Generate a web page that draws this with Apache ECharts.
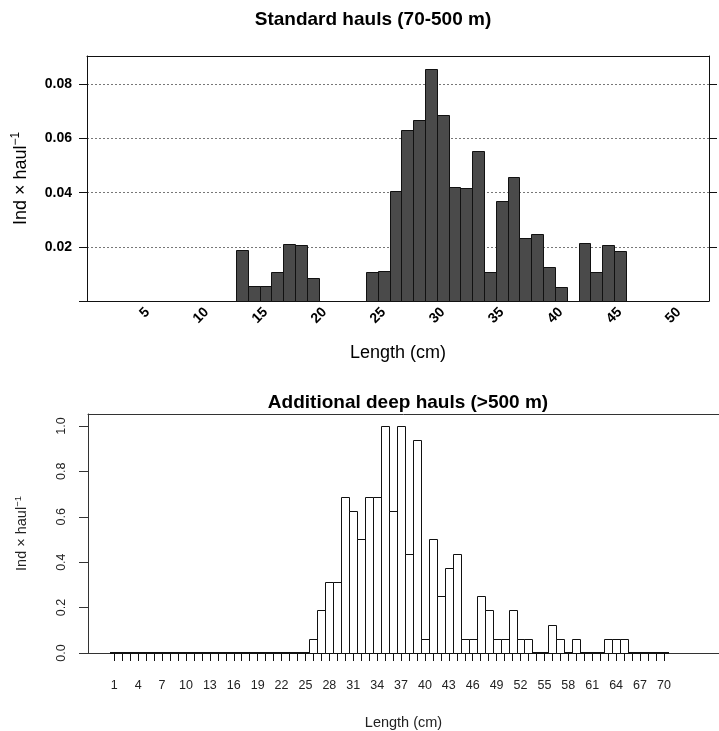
<!DOCTYPE html>
<html>
<head>
<meta charset="utf-8">
<script src="https://cdn.jsdelivr.net/npm/echarts@6/dist/echarts.min.js"></script>
<style>
  html, body { margin: 0; padding: 0; background: #fff; }
  #chart { width: 719px; height: 731px; }
</style>
</head>
<body>
<div id="chart"></div>
<script>
// Length-frequency, standard hauls (70-500 m): length class (cm) and Ind x haul^-1
const stdLengths = [13, 14, 15, 16, 17, 18, 19, 20, 21, 22, 23, 24, 25, 26, 27, 28, 29,
  30, 31, 32, 33, 34, 35, 36, 37, 38, 39, 40, 41, 42, 43, 44, 45];
const stdValues = [0.019, 0.0054, 0.0054, 0.0108, 0.0212, 0.0208, 0.0084, null, null, null, null,
  0.0106, 0.011, 0.0406, 0.0633, 0.0667, 0.0858, 0.0686, 0.0422, 0.0419, 0.0555, 0.0108,
  0.0368, 0.0458, 0.0232, 0.0248, 0.0126, 0.0053, null, 0.0214, 0.0106, 0.0208, 0.0183];
const stdXLabels = [5, 10, 15, 20, 25, 30, 35, 40, 45, 50];
const stdYTicks = [0, 0.02, 0.04, 0.06, 0.08];
const stdYLabels = [0.02, 0.04, 0.06, 0.08];

// Additional deep hauls (>500 m): length classes 1..70 cm
const deepLengths = [1, 2, 3, 4, 5, 6, 7, 8, 9, 10, 11, 12, 13, 14, 15, 16, 17, 18, 19, 20,
  21, 22, 23, 24, 25, 26, 27, 28, 29, 30, 31, 32, 33, 34, 35, 36, 37, 38, 39, 40,
  41, 42, 43, 44, 45, 46, 47, 48, 49, 50, 51, 52, 53, 54, 55, 56, 57, 58, 59, 60,
  61, 62, 63, 64, 65, 66, 67, 68, 69, 70];
const deepValues = [0, 0, 0, 0, 0, 0, 0, 0, 0, 0, 0, 0, 0, 0, 0, 0, 0, 0, 0, 0,
  0, 0, 0, 0, 0, 0.0625, 0.1875, 0.3125, 0.3125, 0.6875, 0.625, 0.5, 0.6875, 0.6875, 1.0, 0.625, 1.0, 0.4375, 0.9375, 0.0625,
  0.5, 0.25, 0.375, 0.4375, 0.0625, 0.0625, 0.25, 0.1875, 0.0625, 0.0625, 0.1875, 0.0625, 0.0625, 0, 0, 0.125, 0.0625, 0, 0.0625, 0,
  0, 0, 0.0625, 0.0625, 0.0625, 0, 0, 0, 0, 0];
const deepXLabels = [1, 4, 7, 10, 13, 16, 19, 22, 25, 28, 31, 34, 37, 40, 43, 46, 49, 52, 55, 58, 61, 64, 67, 70];
const deepYTicks = [0, 0.2, 0.4, 0.6, 0.8, 1.0];

const FONT = '"Liberation Sans", Arial, Helvetica, sans-serif';
const INK = '#111';

const stdData = stdLengths.map((l, i) => [l, stdValues[i]]).filter(d => d[1] !== null);
const deepData = deepLengths.map((l, i) => [l, deepValues[i]]);

// Histogram bar spanning one length class (x-0.5 .. x+0.5), snapped to half pixels.
// Empty classes collapse to a dark stroke along the baseline.
function histBar(fill) {
  return function (params, api) {
    const x = api.value(0);
    const v = api.value(1);
    const a = api.coord([x - 0.5, 0]);
    const b = api.coord([x + 0.5, v]);
    const x0 = Math.round(a[0]) + 0.5;
    const x1 = Math.round(b[0]) + 0.5;
    if (v === 0) {
      const yb = Math.round(a[1]);
      return {
        type: 'line',
        shape: { x1: x0 - 0.5, y1: yb, x2: x1 + 0.5, y2: yb },
        style: { stroke: INK, lineWidth: 2 }
      };
    }
    const y0 = Math.round(a[1]) + 0.5;
    const y1 = Math.round(b[1]) + 0.5;
    return {
      type: 'rect',
      shape: { x: x0, y: y1, width: x1 - x0, height: y0 - y1 },
      style: { fill: fill, stroke: INK, lineWidth: 1 }
    };
  };
}

const yNameText = 'Ind \u00d7 haul{sup|\u22121}';

const chart = echarts.init(document.getElementById('chart'), null, { renderer: 'canvas' });

chart.setOption({
  backgroundColor: '#fff',
  animation: false,
  textStyle: { fontFamily: FONT, color: '#000' },
  title: [
    {
      text: 'Standard hauls (70-500 m)',
      left: 373, top: 10, textAlign: 'center', padding: 0,
      textStyle: { fontFamily: FONT, fontSize: 19, fontWeight: 'bold', color: '#000' }
    },
    {
      text: 'Additional deep hauls (>500 m)',
      left: 408, top: 393, textAlign: 'center', padding: 0,
      textStyle: { fontFamily: FONT, fontSize: 19, fontWeight: 'bold', color: '#000' }
    }
  ],
  grid: [
    { left: 87, top: 56, width: 622, height: 245, containLabel: false },
    { left: 88, top: 414, width: 671, height: 240, containLabel: false }
  ],
  xAxis: [
    {
      gridIndex: 0, type: 'value', min: -0.12, max: 52.55, position: 'bottom',
      axisLine: { show: true, onZero: false, lineStyle: { color: INK, width: 1 } },
      axisTick: { show: false },
      splitLine: { show: false },
      axisLabel: {
        customValues: stdXLabels, rotate: 45, margin: 9,
        fontFamily: FONT, fontSize: 14, fontWeight: 'bold', color: '#000'
      },
      name: 'Length (cm)', nameLocation: 'middle', nameGap: 43,
      nameTextStyle: { fontFamily: FONT, fontSize: 18, color: '#000' }
    },
    {
      gridIndex: 0, type: 'value', min: -0.12, max: 52.55, position: 'top',
      axisLine: { show: true, onZero: false, lineStyle: { color: INK, width: 1 } },
      axisTick: { show: false }, axisLabel: { show: false }, splitLine: { show: false }
    },
    {
      gridIndex: 1, type: 'value', min: -2.3, max: 76.92, position: 'bottom',
      axisLine: { show: true, onZero: false, lineStyle: { color: '#333', width: 1 } },
      axisTick: { show: false }, axisLabel: { show: false }, splitLine: { show: false },
      name: 'Length (cm)', nameLocation: 'middle', nameGap: 62,
      nameTextStyle: { fontFamily: FONT, fontSize: 14.5, color: '#222' }
    },
    {
      gridIndex: 1, type: 'value', min: -2.3, max: 76.92, position: 'top',
      axisLine: { show: true, onZero: false, lineStyle: { color: '#333', width: 1 } },
      axisTick: { show: false }, axisLabel: { show: false }, splitLine: { show: false }
    },
    {
      gridIndex: 1, type: 'value', min: -2.3, max: 76.92, position: 'bottom', offset: 3,
      axisLine: { show: false },
      axisTick: { show: true, customValues: deepLengths, length: 8, lineStyle: { color: INK, width: 1 } },
      axisLabel: {
        customValues: deepXLabels, margin: 23,
        fontFamily: FONT, fontSize: 12.5, color: '#222'
      },
      splitLine: { show: false }
    }
  ],
  yAxis: [
    {
      gridIndex: 0, type: 'value', min: 0, max: 0.0905, interval: 0.02, position: 'left',
      axisLine: { show: true, onZero: false, lineStyle: { color: INK, width: 1 } },
      axisTick: { show: true, customValues: stdYTicks, length: 8, lineStyle: { color: INK, width: 1 } },
      axisLabel: {
        customValues: stdYLabels, margin: 15,
        formatter: v => v.toFixed(2),
        fontFamily: FONT, fontSize: 14, fontWeight: 'bold', color: '#000'
      },
      splitLine: { show: true, lineStyle: { color: '#777', type: [2, 2], width: 1 } },
      name: yNameText, nameLocation: 'middle', nameRotate: 90, nameGap: 55,
      nameTextStyle: {
        fontFamily: FONT, fontSize: 18, color: '#000',
        rich: { sup: { fontFamily: FONT, fontSize: 12, color: '#000', padding: [0, 0, 10, 0] } }
      }
    },
    {
      gridIndex: 0, type: 'value', min: 0, max: 0.0905, interval: 0.02, position: 'right',
      axisLine: { show: true, onZero: false, lineStyle: { color: INK, width: 1 } },
      axisTick: { show: true, customValues: stdYLabels, length: 8, lineStyle: { color: INK, width: 1 } },
      axisLabel: { show: false }, splitLine: { show: false }
    },
    {
      gridIndex: 1, type: 'value', min: 0, max: 1.0526, interval: 0.2, position: 'left',
      axisLine: { show: true, onZero: false, lineStyle: { color: '#333', width: 1 } },
      axisTick: { show: true, customValues: deepYTicks, length: 9, lineStyle: { color: '#333', width: 1 } },
      axisLabel: {
        customValues: deepYTicks, rotate: 90, margin: 20,
        formatter: v => v.toFixed(1),
        fontFamily: FONT, fontSize: 12.5, color: '#222'
      },
      splitLine: { show: false },
      name: yNameText, nameLocation: 'middle', nameRotate: 90, nameGap: 57,
      nameTextStyle: {
        fontFamily: FONT, fontSize: 14.5, color: '#222',
        rich: { sup: { fontFamily: FONT, fontSize: 9.5, color: '#222', padding: [0, 0, 8, 0] } }
      }
    }
  ],
  series: [
    {
      type: 'custom', name: 'Standard hauls',
      xAxisIndex: 0, yAxisIndex: 0,
      renderItem: histBar('#4a4a4a'),
      encode: { x: 0, y: 1 },
      data: stdData,
      z: 3
    },
    {
      type: 'custom', name: 'Additional deep hauls',
      xAxisIndex: 2, yAxisIndex: 2,
      renderItem: histBar('#ffffff'),
      encode: { x: 0, y: 1 },
      data: deepData,
      z: 3
    }
  ]
});
</script>
</body>
</html>
